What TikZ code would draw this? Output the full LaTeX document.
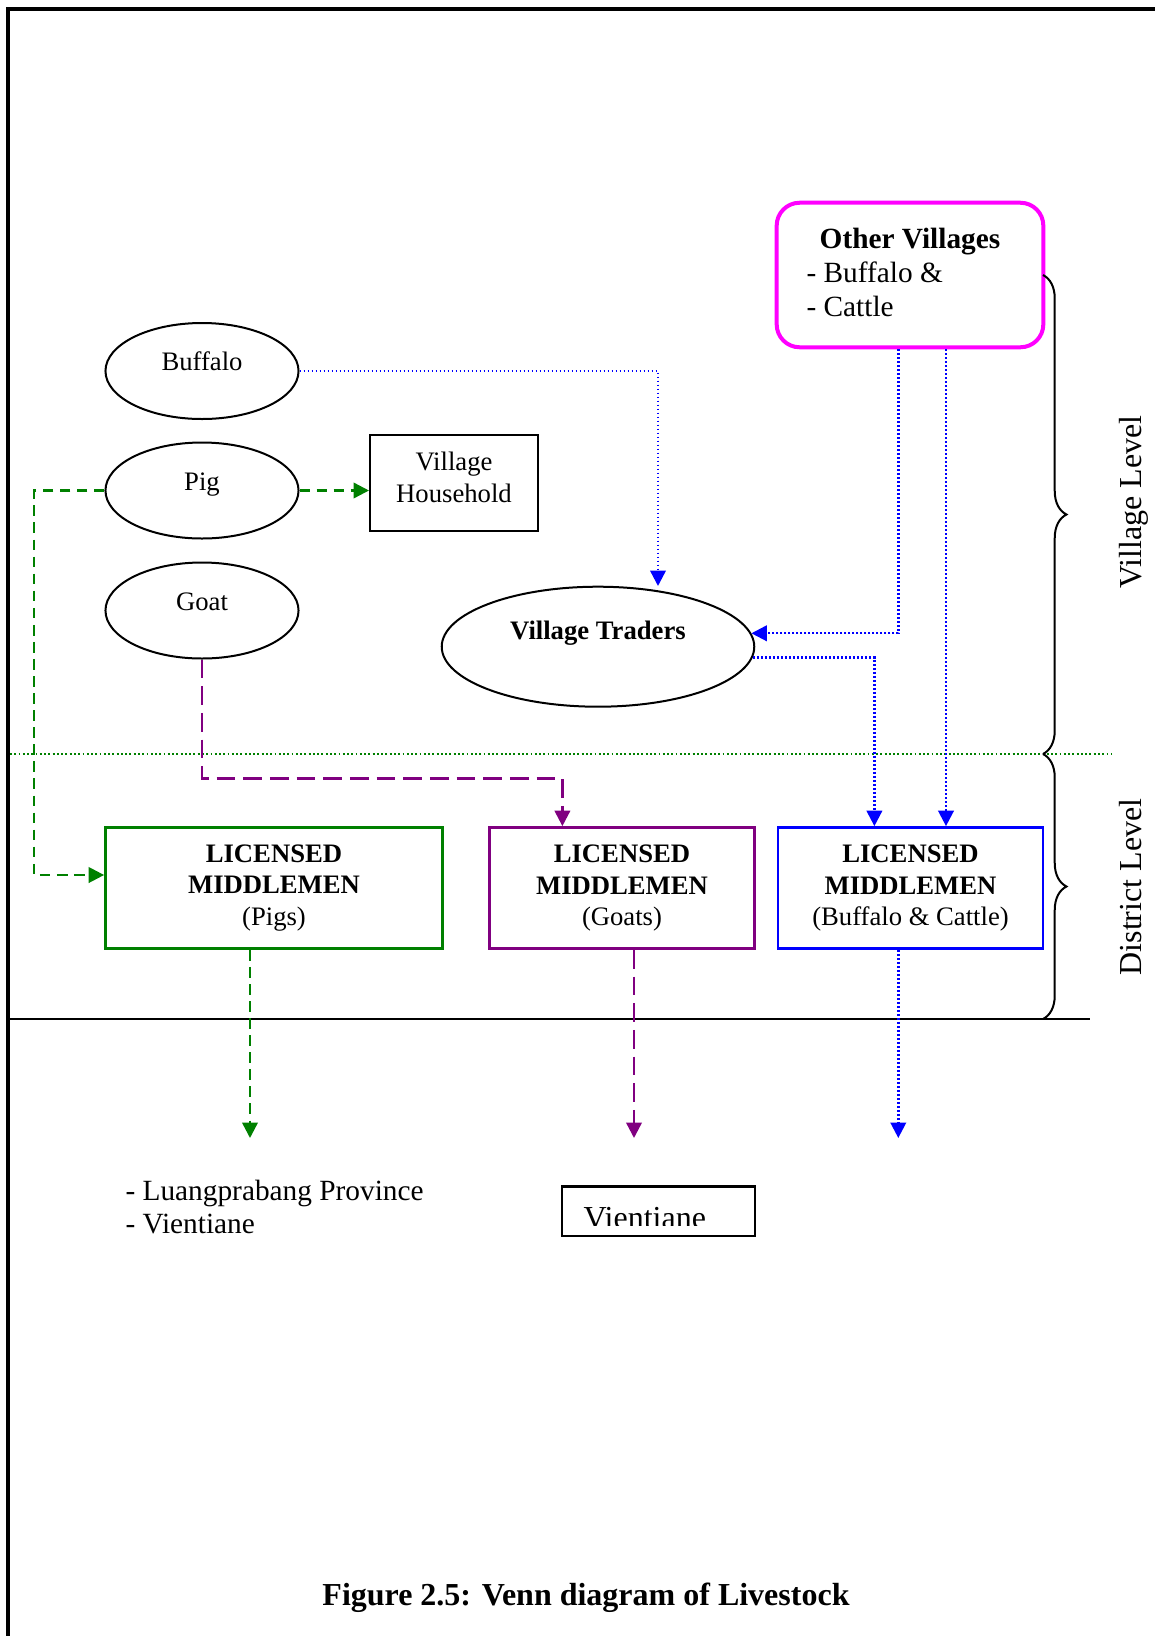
\documentclass[tikz,border=0pt]{standalone}
\usepackage{fontspec}
\setmainfont{Liberation Serif}
\usetikzlibrary{shapes.geometric,arrows.meta,decorations.pathreplacing}
\definecolor{lvgreen}{RGB}{0,128,0}
\definecolor{lvpurple}{RGB}{128,0,128}
\definecolor{lvblue}{RGB}{0,0,255}
\definecolor{lvmagenta}{RGB}{255,0,255}

\begin{document}
\begin{tikzpicture}[x=0.375pt,y=-0.375pt,
  ften/.style={font=\fontsize{10}{12}\selectfont},
  feleven/.style={font=\fontsize{11}{13}\selectfont},
  ftwelve/.style={font=\fontsize{12}{14}\selectfont},
  lbl/.style={anchor=base,inner sep=0pt},
  animal/.style={ellipse,draw,line width=0.75pt,minimum width=72.4pt,minimum height=36pt,inner sep=0pt},
  mbox/.style={draw,line width=1pt,minimum height=45.4pt,inner sep=0pt,align=center,
    font=\fontsize{10}{11.7}\selectfont},
  arr/.style={-{Triangle[width=5.8pt,length=5.8pt]}},
  gdash/.style={lvgreen,line width=0.9pt,dash pattern=on 4pt off 2.4pt},
  pdash/.style={lvpurple,line width=0.9pt,dash pattern=on 7pt off 3pt},
  bdot/.style={lvblue,line width=0.9pt,dash pattern=on 0.7pt off 0.8pt},
  lvbrace/.style={line width=0.75pt,decorate,decoration={brace,amplitude=8.8pt}}
]
\useasboundingbox (0,0) rectangle (1155,1636);

% page frame (top and left edges)
\draw[line width=1.6pt] (8,1636) -- (8,8.8) -- (1155,8.8);

% livestock
\node[animal] (buf) at (202,371) {};
\node[animal] (pig) at (202,490.5) {};
\node[animal] (goat) at (202,610.5) {};
\node[lbl,ften] (buf-t) at (202,370.5) {Buffalo};
\node[lbl,ften] (pig-t) at (202,490) {Pig};
\node[lbl,ften] (goat-t) at (202,610) {Goat};

% village household
\node[draw,line width=0.75pt,minimum width=63pt,minimum height=36pt,inner sep=0pt] (vh) at (454,483) {};
\node[lbl,ften] (vh-1) at (454,470.8) {Village};
\node[lbl,ften] (vh-2) at (454,502.3) {Household};

% village traders
\node[ellipse,draw,line width=0.75pt,minimum width=117.2pt,minimum height=45pt,inner sep=0pt] (trd) at (598,646.7) {};
\node[lbl,font=\fontsize{10}{12}\selectfont\bfseries] (trd-t) at (598,639.5) {Village Traders};

% other villages
\node[draw=lvmagenta,line width=1.5pt,rounded corners=8.6pt,minimum width=100pt,minimum height=54.2pt,inner sep=0pt] (ov) at (910,275) {};
\node[lbl,font=\fontsize{11}{13}\selectfont\bfseries] (ov-t) at (910,248.7) {Other Villages};
\node[lbl,feleven,anchor=base west] (ov-1) at (806,282.4) {- Buffalo \&};
\node[lbl,feleven,anchor=base west] (ov-2) at (806,316.4) {- Cattle};

% licensed middlemen
\node[mbox,draw=lvgreen,minimum width=126.4pt] (mpig) at (274,888) {\textbf{LICENSED}\\\textbf{MIDDLEMEN}\\(Pigs)};
\node[mbox,draw=lvpurple,minimum width=99.4pt] (mgoat) at (622,888) {\textbf{LICENSED}\\\textbf{MIDDLEMEN}\\(Goats)};
\node[mbox,draw=lvblue,minimum width=99.4pt] (mbuf) at (910.5,888) {\textbf{LICENSED}\\\textbf{MIDDLEMEN}\\(Buffalo \& Cattle)};

% level separators
\draw[lvgreen,line width=0.8pt,dash pattern=on 0.7pt off 0.9pt] (10,754) -- (1111,754);
\draw[line width=0.9pt] (6,1019) -- (1090,1019);

% level braces and labels
\draw[lvbrace] (1043,275) -- (1043,754);
\draw[lvbrace] (1043,754) -- (1043,1019);
\node[lbl,ftwelve,rotate=90] (lvl-v) at (1141,502) {Village Level};
\node[lbl,ftwelve,rotate=90] (lvl-d) at (1141,887) {District Level};

% destinations
\node[lbl,feleven,anchor=base west] (dest-1) at (125,1200) {- Luangprabang Province};
\node[lbl,feleven,anchor=base west] (dest-2) at (125,1233.5) {- Vientiane};
\node[draw,line width=0.9pt,minimum width=72.4pt,minimum height=18.4pt,inner sep=0pt] (vt) at (658.5,1211.2) {};
\begin{scope}
  \clip (562,1186.7) rectangle (755,1225);
  \node[lbl,ftwelve,anchor=base west] (vt-t) at (583,1228) {Vientiane};
\end{scope}

% caption
\node[lbl,font=\fontsize{12}{14}\selectfont\bfseries] (cap) at (586,1605) {Figure 2.5: Venn diagram of Livestock};

% helper coordinates for connector routes
\coordinate (bufdrop) at (658,586);
\coordinate (xa) at (898.3,0);
\coordinate (xb) at (946,0);
\coordinate (xc) at (874.4,0);
\coordinate (pigturn) at (34,875);
\coordinate (goatturn) at (562.4,778.3);
\coordinate (endg) at (250,1138);
\coordinate (endp) at (634,1138);
\coordinate (endb) at (898.3,1138);

% buffalo and cattle flows
\draw[bdot,arr] (buf.east) -| (bufdrop);
\draw[bdot,arr] (ov.south -| xa) |- (trd.5.2);
\draw[bdot,arr] (trd.-4.6) -| (mbuf.north -| xc);
\draw[bdot,arr] (ov.south -| xb) -- (mbuf.north -| xb);

% pig flows
\draw[gdash,arr] (pig.east) -- (pig.east -| vh.west);
\draw[gdash,arr] (pig.west) -| (pigturn) -- (pigturn -| mpig.west);

% goat flow
\draw[pdash,arr] (goat.south) |- (goatturn) -- (goatturn |- mgoat.north);

% onward flows
\draw[gdash,arr] (mpig.south -| endg) -- (endg);
\draw[pdash,arr] (mgoat.south -| endp) -- (endp);
\draw[bdot,arr] (mbuf.south -| endb) -- (endb);
\end{tikzpicture}
\end{document}
